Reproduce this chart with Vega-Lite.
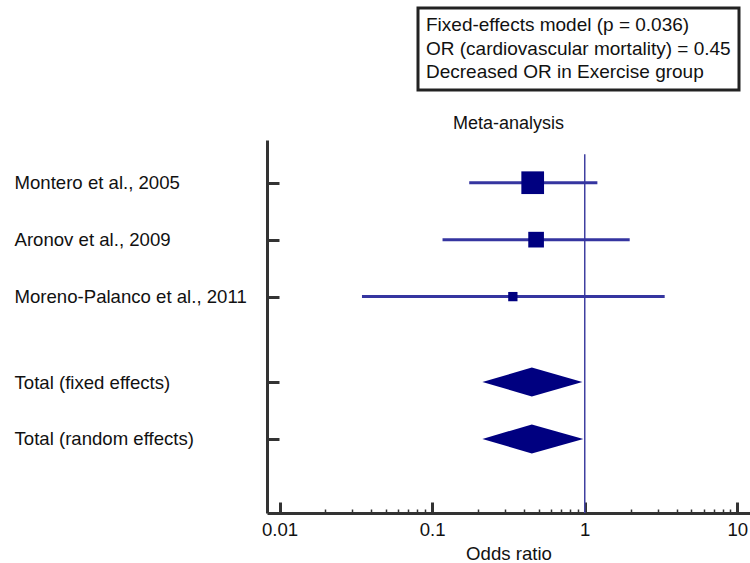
{
  "$schema": "https://vega.github.io/schema/vega-lite/v6.json",
  "width": 483,
  "height": 373,
  "autosize": "none",
  "padding": {"left": 267, "top": 140, "right": 0, "bottom": 50},
  "background": "white",
  "config": {"view": {"stroke": null}, "font": "Liberation Sans", "legend": {"strokeWidth": 3}},
  "title": {"text": "Meta-analysis", "fontSize": 18, "fontWeight": "normal", "color": "#111", "anchor": "middle", "frame": "group", "offset": 6, "dy": 132},
  "datasets": {
    "studies": [
      {"study": "Montero et al., 2005", "row": 1, "or": 0.456, "lo": 0.175, "hi": 1.21, "weight": 60.8},
      {"study": "Aronov et al., 2009", "row": 2, "or": 0.48, "lo": 0.117, "hi": 1.97, "weight": 29.0},
      {"study": "Moreno-Palanco et al., 2011", "row": 3, "or": 0.338, "lo": 0.0347, "hi": 3.34, "weight": 10.2}
    ],
    "totals": [
      {"model": "Total (fixed effects)", "row": 4.5, "or": 0.45, "lo": 0.2135, "hi": 0.965},
      {"model": "Total (random effects)", "row": 5.5, "or": 0.45, "lo": 0.2135, "hi": 0.979}
    ],
    "reference": [{"ref": 1}]
  },
  "resolve": {"axis": {"x": "independent"}},
  "layer": [
    {
      "data": {"name": "reference"},
      "mark": {"type": "rule", "color": "#4040a0", "strokeWidth": 1.5},
      "encoding": {
        "x": {"field": "ref", "type": "quantitative", "scale": {"type": "log", "domain": [0.00828, 12.1], "nice": false}, "axis": null},
        "y": {"datum": 0.5, "type": "quantitative", "scale": {"domain": [0.25, 6.8], "reverse": true, "nice": false, "zero": false},
          "axis": {
            "values": [1, 2, 3, 4.5, 5.5],
            "labelExpr": "datum.value === 1 ? 'Montero et al., 2005' : datum.value === 2 ? 'Aronov et al., 2009' : datum.value === 3 ? 'Moreno-Palanco et al., 2011' : datum.value === 4.5 ? 'Total (fixed effects)' : 'Total (random effects)'",
            "title": null, "grid": false, "orient": "left",
            "domainWidth": 3, "domainColor": "#333",
            "tickSize": -12, "tickWidth": 3, "tickColor": "#333",
            "labelAlign": "left", "labelBaseline": "middle", "labelPadding": 265, "labelLimit": 400,
            "labelFontSize": 18.6, "labelColor": "#111"
          }
        },
        "y2": {"datum": 6.8}
      }
    },
    {
      "data": {"name": "studies"},
      "mark": {"type": "rule", "color": "#3535a0", "strokeWidth": 3},
      "encoding": {
        "x": {"field": "lo", "type": "quantitative",
          "axis": {
            "values": [0.01, 0.1, 1, 10], "format": "~g", "orient": "bottom",
            "title": "Odds ratio", "titleFontSize": 18.6, "titleFontWeight": "normal", "titleColor": "#111", "titlePadding": 6,
            "grid": false, "domainWidth": 3, "domainColor": "#333",
            "tickSize": -11, "tickWidth": 3, "tickColor": "#333",
            "labelFontSize": 18.6, "labelColor": "#111", "labelPadding": 18, "labelFlush": false
          }
        },
        "x2": {"field": "hi"},
        "y": {"field": "row", "type": "quantitative"}
      }
    },
    {
      "data": {"name": "studies"},
      "mark": {"type": "point", "shape": "square", "filled": true, "color": "#000080", "opacity": 1},
      "encoding": {
        "x": {"field": "or", "type": "quantitative", "axis": null},
        "y": {"field": "row", "type": "quantitative"},
        "size": {"field": "weight", "type": "quantitative", "scale": {"domain": [0, 60.8], "range": [0, 515]},
          "legend": {
            "values": [],
            "title": ["Fixed-effects model (p = 0.036)", "OR (cardiovascular mortality) = 0.45", "Decreased OR in Exercise group"],
            "orient": "none", "legendX": 151, "legendY": -132,
            "titleFontSize": 19, "titleFontWeight": "normal", "titleColor": "#111", "titleLineHeight": 23.5,
            "titleAlign": "left", "titleLimit": 500, "padding": 8,
            "strokeColor": "#222", "fillColor": "white"
          }
        }
      }
    },
    {
      "data": {"name": "totals"},
      "transform": [{"fold": ["lo", "or", "hi"], "as": ["point", "value"]}],
      "mark": {"type": "area", "color": "#000080", "opacity": 1,
        "yOffset": {"expr": "datum.point === 'or' ? -14.5 : 0"},
        "y2Offset": {"expr": "datum.point === 'or' ? 14.5 : 0"}},
      "encoding": {
        "x": {"field": "value", "type": "quantitative",
          "axis": {
            "values": [0.02, 0.03, 0.04, 0.05, 0.06, 0.07, 0.08, 0.09, 0.2, 0.3, 0.4, 0.5, 0.6, 0.7, 0.8, 0.9, 2, 3, 4, 5, 6, 7, 8, 9],
            "orient": "bottom", "labels": false, "domain": false, "title": null, "grid": false,
            "tickSize": -4, "tickWidth": 1.5, "tickColor": "#333"
          }
        },
        "y": {"field": "row", "type": "quantitative"},
        "y2": {"field": "row"},
        "detail": {"field": "model"}
      }
    }
  ]
}
